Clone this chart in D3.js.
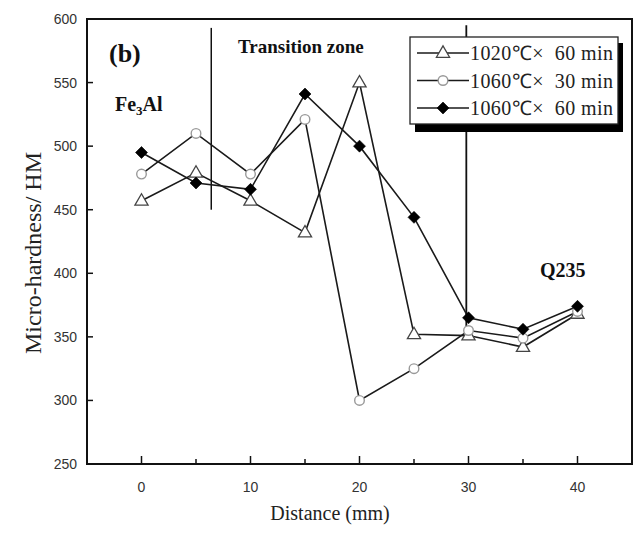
<!DOCTYPE html>
<html>
<head>
<meta charset="utf-8">
<script src="https://cdn.jsdelivr.net/npm/d3@7"></script>
<style>
  body { margin: 0; background: #fff; }
  text { font-family: "Liberation Serif", "Times New Roman", serif; }
  .tick-label { font-family: "Liberation Sans", Arial, sans-serif; font-size: 14px; fill: #333; }
</style>
</head>
<body>
<div id="chart"></div>
<script>
var width = 639, height = 533;
// plot frame
var margin = {top: 19, right: 7, bottom: 69, left: 87};

// distances (mm)
var distances = [0, 5, 10, 15, 20, 25, 30, 35, 40];
// micro-hardness values
var hv1020_60 = [457, 479, 457, 432, 550, 352, 351, 342, 368];
var hv1060_30 = [478, 510, 478, 521, 300, 325, 355, 349, 370];
var hv1060_60 = [495, 471, 466, 541, 500, 444, 365, 356, 374];

var seriesNames = ["1020℃×  60 min", "1060℃×  30 min", "1060℃×  60 min"];
var xTicks = [0, 10, 20, 30, 40];
var yTicks = [250, 300, 350, 400, 450, 500, 550, 600];

var series = [
    {name: seriesNames[0], values: hv1020_60, marker: "triangle"},
    {name: seriesNames[1], values: hv1060_30, marker: "circle"},
    {name: seriesNames[2], values: hv1060_60, marker: "diamond"}
];

var svg = d3.select("#chart")
    .append("svg")
        .attr("width", width)
        .attr("height", height);

var x = d3.scaleLinear().domain([-5, 45]).range([margin.left, width - margin.right]);
var y = d3.scaleLinear().domain([250, 600]).range([height - margin.bottom, margin.top]);

// frame
svg.append("rect")
    .attr("x", x(-5)).attr("y", y(600))
    .attr("width", x(45) - x(-5)).attr("height", y(250) - y(600))
    .attr("fill", "none").attr("stroke", "#111").attr("stroke-width", 2);

// ticks (inward)
svg.selectAll(".xtick")
    .data(d3.range(0, 41, 5))
    .join("line")
    .attr("x1", function(d){ return x(d); })
    .attr("x2", function(d){ return x(d); })
    .attr("y1", y(250))
    .attr("y2", function(d){ return y(250) - (d % 10 === 0 ? 8 : 5); })
    .attr("stroke", "#111").attr("stroke-width", 1.5);

svg.selectAll(".ytick")
    .data(yTicks.slice(1, -1))
    .join("line")
    .attr("x1", x(-5)).attr("x2", x(-5) + 6)
    .attr("y1", function(d){ return y(d); })
    .attr("y2", function(d){ return y(d); })
    .attr("stroke", "#111").attr("stroke-width", 1.5);

svg.selectAll(".xlab")
    .data(xTicks)
    .join("text")
    .attr("class", "tick-label")
    .attr("x", function(d){ return x(d); })
    .attr("y", y(250) + 28)
    .attr("text-anchor", "middle")
    .text(function(d){ return d; });

svg.selectAll(".ylab")
    .data(yTicks)
    .join("text")
    .attr("class", "tick-label")
    .attr("x", x(-5) - 10)
    .attr("y", function(d){ return y(d) + 5; })
    .attr("text-anchor", "end")
    .text(function(d){ return d; });

// axis titles
svg.append("text")
    .attr("x", 330).attr("y", 520)
    .attr("text-anchor", "middle")
    .style("font-size", "20px").attr("fill", "#222")
    .text("Distance (mm)");

svg.append("text")
    .attr("transform", "translate(41," + 253 + ") rotate(-90)")
    .attr("text-anchor", "middle")
    .style("font-size", "24px").attr("fill", "#222")
    .text("Micro-hardness/ HM");

// zone boundaries
svg.append("line")
    .attr("x1", x(6.4)).attr("x2", x(6.4))
    .attr("y1", y(593)).attr("y2", y(450))
    .attr("stroke", "#111").attr("stroke-width", 1.5);
svg.append("line")
    .attr("x1", x(29.8)).attr("x2", x(29.8))
    .attr("y1", y(595)).attr("y2", y(352))
    .attr("stroke", "#111").attr("stroke-width", 1.8);

// annotations
svg.append("text").attr("x", 109).attr("y", 62)
    .style("font-size", "26px").style("font-weight", "bold").attr("fill", "#111")
    .text("(b)");
svg.append("text").attr("x", 238).attr("y", 53)
    .style("font-size", "19px").style("font-weight", "bold").attr("fill", "#111")
    .text("Transition zone");
var fe = svg.append("text").attr("x", 115).attr("y", 111)
    .style("font-size", "20px").style("font-weight", "bold").attr("fill", "#111");
fe.append("tspan").text("Fe");
fe.append("tspan").attr("dy", 4).style("font-size", "13px").text("3");
fe.append("tspan").attr("dy", -4).text("Al");
svg.append("text").attr("x", 540).attr("y", 277)
    .style("font-size", "20px").style("font-weight", "bold").attr("fill", "#111")
    .text("Q235");

// lines
var line = d3.line()
    .x(function(d, i){ return x(distances[i]); })
    .y(function(d){ return y(d); });

svg.selectAll(".series")
    .data(series)
    .join("path")
    .attr("d", function(s){ return line(s.values); })
    .attr("fill", "none")
    .attr("stroke", "#1a1a1a")
    .attr("stroke-width", 1.6);

function drawMarker(g, type, cx, cy) {
    if (type === "triangle") {
        g.append("path")
            .attr("d", d3.symbol().type(d3.symbolTriangle).size(75)())
            .attr("transform", "translate(" + cx + "," + (cy + 0.5) + ")")
            .attr("fill", "#fff").attr("stroke", "#444").attr("stroke-width", 1.3);
    } else if (type === "circle") {
        g.append("circle")
            .attr("cx", cx).attr("cy", cy).attr("r", 4.8)
            .attr("fill", "#fff").attr("stroke", "#999").attr("stroke-width", 1.4);
    } else {
        g.append("path")
            .attr("d", "M0,-6L6,0L0,6L-6,0Z")
            .attr("transform", "translate(" + cx + "," + cy + ")")
            .attr("fill", "#000").attr("stroke", "#000").attr("stroke-width", 0.6);
    }
}

series.forEach(function(s){
    var g = svg.append("g");
    s.values.forEach(function(v, i){
        drawMarker(g, s.marker, x(distances[i]), y(v));
    });
});

// legend box with shadow
var lg = svg.append("g");
lg.append("rect").attr("x", 415).attr("y", 43).attr("width", 208).attr("height", 89).attr("fill", "#000");
lg.append("rect").attr("x", 410).attr("y", 37).attr("width", 208).attr("height", 87)
    .attr("fill", "#fff").attr("stroke", "#222").attr("stroke-width", 1.3);

var legendRows = lg.selectAll(".row")
    .data(series)
    .join("g")
    .attr("transform", function(d, i){ return "translate(0," + (53 + i * 27.5) + ")"; });

legendRows.append("line")
    .attr("x1", 417).attr("x2", 469).attr("y1", 0).attr("y2", 0)
    .attr("stroke", "#1a1a1a").attr("stroke-width", 1.6);
legendRows.each(function(d){
    drawMarker(d3.select(this), d.marker, 443, 0);
});
legendRows.append("text")
    .attr("x", 470).attr("y", 7)
    .attr("textLength", 143)
    .attr("lengthAdjust", "spacing")
    .style("font-size", "20px").attr("fill", "#222")
    .attr("xml:space", "preserve")
    .text(function(d){ return d.name; });
</script>
</body>
</html>
